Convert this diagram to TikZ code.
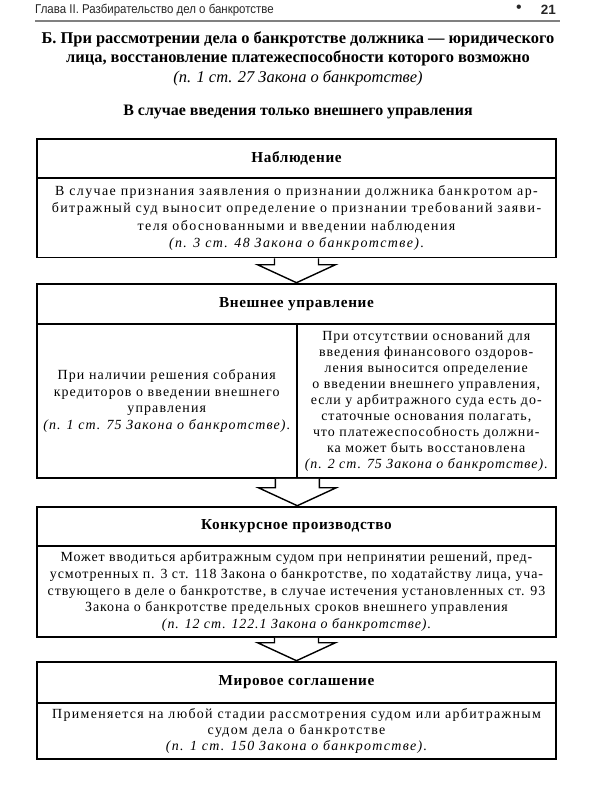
\documentclass[tikz,border=0pt]{standalone}
\usepackage{fontspec}
\setmainfont{Liberation Serif}
\newfontfamily\bodyA[LetterSpace=10]{Liberation Serif}
\newfontfamily\bodyB[LetterSpace=8]{Liberation Serif}
\newfontfamily\bodyC[LetterSpace=7]{Liberation Serif}
\newfontfamily\bodyD[LetterSpace=6.5]{Liberation Serif}
\newfontfamily\bodyE[LetterSpace=9.5]{Liberation Serif}
\newfontfamily\headf[LetterSpace=4]{Liberation Serif}
\newfontfamily\pagef[FakeStretch=0.9]{Liberation Sans}
\newfontfamily\pagenum{Liberation Sans}
\usetikzlibrary{calc}
\newcommand\blockarrow[2]{%
  \draw[blockarr] let \p1=(#1), \p2=(#2.north) in
    (\x1-22bp,\y1) -- (\x1-22bp,\y2+18bp) -- (\x1-39bp,\y2+18bp) -- (\x1,\y2)
    -- (\x1+39bp,\y2+18bp) -- (\x1+22bp,\y2+18bp) -- (\x1+22bp,\y1);}
\begin{document}
\begin{tikzpicture}[x=1bp,y=-1bp,
  hdr/.style={draw, line width=2.6bp, minimum width=519bp, inner sep=0pt,
    font=\headf\bfseries\fontsize{15.3}{17}\selectfont},
  bodybox/.style={draw, line width=1.6bp, inner sep=0pt, align=center},
  blockarr/.style={draw, line width=1.4bp, fill=white, line join=miter},
  pagehdr/.style={inner sep=0pt, font=\pagef\fontsize{12.8}{14}\selectfont, text=black!85},
  ttl/.style={inner sep=0pt, align=center, font=\bfseries\fontsize{16.5}{19.5}\selectfont}
]
\useasboundingbox (0,0) rectangle (600,800);
\fill[white] (0,0) rectangle (600,800);

% page header
\node[pagehdr, anchor=west] (ph) at (35,10) {Глава II. Разбирательство дел о банкротстве};
\node[pagehdr, font=\pagenum\fontsize{16}{16}\selectfont] (bul) at (519,9) {\textbullet};
\node[pagehdr, anchor=east, font=\pagenum\bfseries\fontsize{13.5}{15}\selectfont] (pn) at (556,10) {21};
\coordinate (rl) at (35,21);
\coordinate (rr) at (560,21);
\draw[line width=1.5bp, black!50] (rl) -- (rr);

% title
\node[ttl] (title) at (298,58.5) {Б. При рассмотрении дела о банкротстве должника — юридического\\
лица, восстановление платежеспособности которого возможно\\
{\normalfont\itshape (п. 1 ст. 27 Закона о банкротстве)}};
\node[ttl, font=\bfseries\fontsize{16}{19}\selectfont] (sub) at (298,112) {В случае введения только внешнего управления};

% box 1
\node[bodybox, minimum width=519bp, minimum height=79bp, font=\bodyA\fontsize{14}{17.5}\selectfont] (b1) at (296.5,218)
  {В случае признания заявления о признании должника банкротом ар-\\
   битражный суд выносит определение о признании требований заяви-\\
   теля обоснованными и введении наблюдения\\
   {\itshape (п. 3 ст. 48 Закона о банкротстве).}};
\node[hdr, minimum height=39bp] (h1) at (296.5,158.5) {Наблюдение};

% box 2
\node[bodybox, minimum width=259.5bp, minimum height=154bp, font=\bodyB\fontsize{14}{17}\selectfont] (b2l) at (166.75,401)
  {При наличии решения собрания\\
   кредиторов о введении внешнего\\
   управления\\
   {\itshape (п. 1 ст. 75 Закона о банкротстве).}};
\node[bodybox, minimum width=259.5bp, minimum height=154bp, font=\bodyC\fontsize{14}{16}\selectfont] (b2r) at (426.25,401)
  {При отсутствии оснований для\\
   введения финансового оздоров-\\
   ления выносится определение\\
   о введении внешнего управления,\\
   если у арбитражного суда есть до-\\
   статочные основания полагать,\\
   что платежеспособность должни-\\
   ка может быть восстановлена\\
   {\itshape (п. 2 ст. 75 Закона о банкротстве).}};
\draw[line width=2.2bp] (b2l.north east) -- (b2l.south east);
\node[hdr, minimum height=40bp] (h2) at (296.5,304) {Внешнее управление};

% box 3
\node[bodybox, minimum width=519bp, minimum height=91bp, font=\bodyD\fontsize{14}{17}\selectfont] (b3) at (296.5,591.5)
  {Может вводиться арбитражным судом при непринятии решений, пред-\\
   усмотренных п. 3 ст. 118 Закона о банкротстве, по ходатайству лица, уча-\\
   ствующего в деле о банкротстве, в случае истечения установленных ст. 93\\
   Закона о банкротстве предельных сроков внешнего управления\\
   {\itshape (п. 12 ст. 122.1 Закона о банкротстве).}};
\node[hdr, minimum height=39bp] (h3) at (296.5,526.5) {Конкурсное производство};

% box 4
\node[bodybox, minimum width=519bp, minimum height=56bp, font=\bodyE\fontsize{14}{16}\selectfont] (b4) at (296.5,731)
  {Применяется на любой стадии рассмотрения судом или арбитражным\\
   судом дела о банкротстве\\
   {\itshape (п. 1 ст. 150 Закона о банкротстве).}};
\node[hdr, minimum height=41bp] (h4) at (296.5,682.5) {Мировое соглашение};

% arrows
\blockarrow{b1.south}{h2}
\blockarrow{b2l.south east}{h3}
\blockarrow{b3.south}{h4}
\end{tikzpicture}
\end{document}
